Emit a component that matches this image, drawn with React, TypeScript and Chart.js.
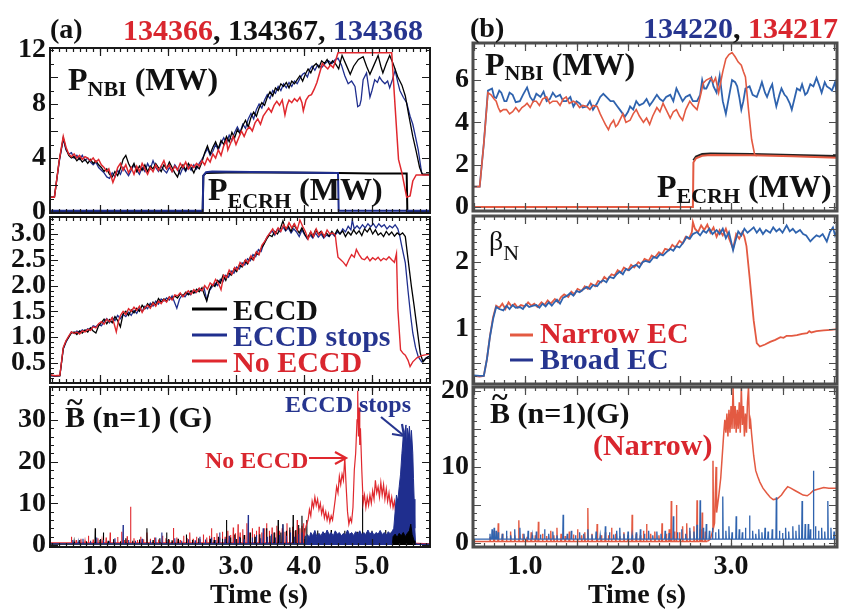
import React, { useEffect, useRef } from 'react';
import { Chart, registerables } from 'chart.js';
Chart.register(...registerables);

type P = [number, number][];

const FONT = '"Liberation Serif", "Times New Roman", Times, serif';
const RED_A = '#e0282e';
const BLUE_A = '#1f2e8e';
const BLACK = '#000000';
const RED_B = '#e35a42';
const BLUE_B = '#2f63ae';
const RED_TXT = '#d9262e';
const NAVY_TXT = '#26358f';

// ---------- Panel (a) top: P_NBI and P_ECRH (MW) ----------
const A1_RED: P = [[0.27,1.1],[0.33,1.1],[0.40,3.8],[0.46,5.6],[0.50,4.8],[0.54,4.3],[0.58,4.1],[0.62,4.3],[0.66,4.0],[0.70,4.2],[0.74,3.9],[0.78,4.1],[0.82,4.0],[0.86,3.8],[0.90,4.0],[0.94,3.7],[0.98,3.9],[1.02,3.5],[1.06,3.3],[1.10,3.0],[1.13,3.2],[1.16,2.7],[1.19,2.2],[1.22,2.6],[1.26,3.3],[1.30,3.6],[1.34,3.1],[1.38,3.5],[1.42,2.9],[1.46,3.3],[1.50,2.8],[1.54,3.4],[1.58,3.0],[1.62,3.6],[1.66,3.2],[1.70,2.8],[1.74,3.3],[1.78,3.0],[1.82,3.5],[1.86,3.1],[1.90,3.4],[1.94,3.8],[1.98,3.2],[2.02,3.5],[2.06,3.0],[2.10,3.4],[2.14,3.1],[2.18,3.6],[2.22,3.3],[2.26,3.7],[2.30,3.2],[2.34,3.5],[2.38,3.3],[2.42,3.6],[2.46,3.4],[2.50,3.8],[2.54,3.5],[2.58,4.0],[2.62,3.7],[2.66,4.3],[2.70,4.0],[2.74,4.6],[2.78,4.2],[2.82,4.9],[2.86,5.3],[2.88,4.6],[2.92,5.1],[2.96,5.6],[3.00,5.0],[3.04,5.5],[3.08,6.0],[3.12,5.6],[3.16,6.1],[3.20,6.3],[3.24,6.0],[3.28,6.6],[3.32,6.9],[3.36,6.5],[3.40,7.1],[3.44,7.4],[3.48,7.7],[3.52,7.4],[3.56,7.9],[3.60,8.2],[3.64,7.9],[3.68,8.3],[3.72,7.2],[3.75,7.9],[3.78,8.3],[3.82,8.1],[3.86,8.4],[3.90,8.2],[3.94,8.5],[3.97,8.1],[3.99,7.5],[4.03,8.3],[4.07,8.6],[4.11,8.7],[4.15,9.1],[4.19,9.6],[4.23,10.3],[4.27,11.0],[4.31,10.8],[4.35,10.6],[4.39,10.9],[4.43,10.7],[4.47,11.3],[4.50,11.8],[5.29,11.8],[5.34,7.8],[5.39,3.9],[5.44,2.9],[5.51,1.1],[5.56,1.2],[5.60,2.3],[5.65,2.75],[5.85,2.75]];
const A1_BLACK: P = [[0.27,1.1],[0.33,1.1],[0.40,3.8],[0.46,5.5],[0.50,4.7],[0.54,4.2],[0.58,4.0],[0.62,4.1],[0.66,3.8],[0.70,4.0],[0.74,3.7],[0.78,3.9],[0.82,3.6],[0.86,3.9],[0.90,3.6],[0.94,3.8],[0.98,3.5],[1.02,3.3],[1.06,3.0],[1.10,3.2],[1.14,2.8],[1.18,2.6],[1.22,3.0],[1.26,2.7],[1.30,3.2],[1.34,3.9],[1.38,4.2],[1.42,3.6],[1.46,3.2],[1.50,3.6],[1.54,3.0],[1.58,3.4],[1.62,3.1],[1.66,3.5],[1.70,3.0],[1.74,3.4],[1.78,3.2],[1.82,3.6],[1.86,3.3],[1.90,3.0],[1.94,3.5],[1.98,3.2],[2.02,3.7],[2.06,3.3],[2.10,2.9],[2.14,2.6],[2.18,3.2],[2.22,3.5],[2.26,3.1],[2.30,3.6],[2.34,3.3],[2.38,2.9],[2.42,3.4],[2.46,3.2],[2.50,3.7],[2.54,4.4],[2.58,4.9],[2.62,4.3],[2.66,4.8],[2.70,5.2],[2.74,4.7],[2.78,5.3],[2.82,5.0],[2.86,5.6],[2.90,5.2],[2.94,5.9],[2.98,5.5],[3.02,6.1],[3.06,5.8],[3.10,6.4],[3.14,6.8],[3.18,6.3],[3.22,7.0],[3.26,7.4],[3.30,7.1],[3.34,7.7],[3.38,8.1],[3.42,7.9],[3.46,8.5],[3.50,8.9],[3.54,8.6],[3.58,9.2],[3.62,9.0],[3.66,9.5],[3.70,9.3],[3.74,9.6],[3.78,9.2],[3.82,9.7],[3.86,9.5],[3.90,9.8],[3.94,10.1],[3.98,9.7],[4.02,10.2],[4.06,10.6],[4.10,10.3],[4.14,10.8],[4.18,11.0],[4.22,10.7],[4.26,11.2],[4.30,11.0],[4.34,11.3],[4.38,10.9],[4.42,11.2],[4.46,11.0],[4.51,10.6],[4.56,11.6],[4.62,10.9],[4.68,10.2],[4.73,10.8],[4.80,11.3],[4.87,11.5],[4.92,10.8],[4.97,10.2],[5.03,10.9],[5.09,11.6],[5.13,10.8],[5.16,10.3],[5.21,11.0],[5.26,11.6],[5.31,11.0],[5.38,10.0],[5.44,9.4],[5.49,8.6],[5.54,7.2],[5.60,5.6],[5.65,4.5],[5.70,3.3],[5.74,2.8],[5.85,2.8]];
const A1_BLUE: P = [[0.27,1.1],[0.33,1.1],[0.40,3.7],[0.46,5.4],[0.50,4.6],[0.54,4.3],[0.58,4.4],[0.62,4.0],[0.66,4.2],[0.70,3.9],[0.74,4.2],[0.78,3.8],[0.82,4.0],[0.86,3.7],[0.90,3.5],[0.94,3.7],[0.98,3.3],[1.02,3.1],[1.06,2.9],[1.10,2.6],[1.14,2.5],[1.18,2.9],[1.22,2.6],[1.26,3.1],[1.30,2.8],[1.34,3.3],[1.38,3.0],[1.42,2.7],[1.46,3.1],[1.50,3.5],[1.54,3.1],[1.58,2.8],[1.62,3.3],[1.66,3.0],[1.70,3.6],[1.74,3.2],[1.78,3.8],[1.82,3.3],[1.86,3.0],[1.90,3.4],[1.94,3.1],[1.98,2.9],[2.02,3.3],[2.06,3.0],[2.10,3.5],[2.14,3.2],[2.18,2.8],[2.22,3.3],[2.26,3.0],[2.30,3.4],[2.34,3.1],[2.38,3.5],[2.42,3.2],[2.46,3.6],[2.50,3.9],[2.54,4.3],[2.58,4.7],[2.62,4.2],[2.66,4.5],[2.70,5.0],[2.74,4.6],[2.78,5.1],[2.82,5.5],[2.86,5.1],[2.90,5.7],[2.94,5.3],[2.98,5.9],[3.02,6.3],[3.06,5.9],[3.10,6.5],[3.14,6.2],[3.18,6.9],[3.22,7.3],[3.26,6.9],[3.30,7.6],[3.34,8.0],[3.38,7.7],[3.42,8.3],[3.46,8.7],[3.50,8.4],[3.54,9.0],[3.58,8.8],[3.62,9.3],[3.66,9.0],[3.70,9.5],[3.74,9.2],[3.78,9.6],[3.82,9.3],[3.86,9.7],[3.90,9.5],[3.94,9.9],[3.98,10.2],[4.01,10.3],[4.05,10.0],[4.09,10.6],[4.12,10.8],[4.16,10.5],[4.20,10.9],[4.26,10.7],[4.31,11.0],[4.36,11.2],[4.41,11.0],[4.46,11.3],[4.50,11.4],[4.55,10.9],[4.60,10.1],[4.65,9.5],[4.70,9.7],[4.75,9.3],[4.79,7.8],[4.82,7.9],[4.84,8.3],[4.87,9.8],[4.92,10.3],[4.97,8.5],[5.00,9.0],[5.04,9.8],[5.08,9.6],[5.11,10.0],[5.15,9.7],[5.19,9.5],[5.23,9.7],[5.26,9.2],[5.30,9.8],[5.34,10.5],[5.38,9.6],[5.41,9.0],[5.46,8.5],[5.51,8.1],[5.56,7.1],[5.60,6.5],[5.63,5.8],[5.68,4.6],[5.73,2.9],[5.75,2.75],[5.85,2.75]];
const A1_ECRH_BLUE: P = [[0.26,0.1],[2.51,0.1],[2.52,2.7],[2.56,2.95],[2.65,3.0],[3.5,2.95],[4.50,2.9],[4.51,0.1],[5.86,0.1]];
const A1_ECRH_BLACK: P = [[0.26,0.05],[2.51,0.05],[2.52,2.7],[2.56,2.9],[3.0,2.95],[4.5,2.9],[5.0,2.85],[5.51,2.85],[5.52,0.05],[5.86,0.05]];

// ---------- Panel (a) middle: beta_N ----------
const A2_RED: P = [[0.27,0.27],[0.34,0.25],[0.41,0.26],[0.46,0.8],[0.50,0.93],[0.54,1.02],[0.58,1.1],[0.62,1.07],[0.66,1.1],[0.70,1.06],[0.74,1.12],[0.78,1.1],[0.82,1.15],[0.86,1.13],[0.90,1.2],[0.94,1.18],[0.98,1.26],[1.02,1.3],[1.06,1.25],[1.10,1.35],[1.14,1.3],[1.18,1.38],[1.21,1.25],[1.24,1.1],[1.27,1.3],[1.30,1.42],[1.34,1.5],[1.38,1.44],[1.42,1.55],[1.46,1.5],[1.50,1.58],[1.54,1.52],[1.58,1.6],[1.62,1.48],[1.66,1.57],[1.70,1.62],[1.74,1.56],[1.78,1.66],[1.82,1.6],[1.86,1.7],[1.90,1.65],[1.94,1.73],[1.98,1.68],[2.02,1.78],[2.06,1.72],[2.10,1.82],[2.14,1.8],[2.18,1.86],[2.22,1.78],[2.26,1.85],[2.30,1.9],[2.34,1.83],[2.38,1.92],[2.42,1.87],[2.46,1.95],[2.50,1.9],[2.54,2.0],[2.58,1.93],[2.62,2.05],[2.66,2.0],[2.70,2.12],[2.74,2.05],[2.78,1.92],[2.82,2.2],[2.86,2.15],[2.90,2.3],[2.94,2.22],[2.98,2.35],[3.02,2.3],[3.06,2.45],[3.10,2.38],[3.14,2.5],[3.18,2.44],[3.22,2.58],[3.26,2.5],[3.30,2.66],[3.34,2.6],[3.38,2.78],[3.42,2.85],[3.46,2.95],[3.50,3.02],[3.54,3.1],[3.58,3.0],[3.62,3.12],[3.66,3.05],[3.70,3.18],[3.74,3.1],[3.78,3.22],[3.82,3.12],[3.86,3.2],[3.90,3.08],[3.94,3.27],[3.98,3.15],[4.02,3.05],[4.06,2.9],[4.10,3.05],[4.14,2.95],[4.18,3.1],[4.22,2.98],[4.26,3.05],[4.30,2.95],[4.34,3.08],[4.38,3.0],[4.42,3.02],[4.46,2.98],[4.48,2.75],[4.50,2.55],[4.54,2.5],[4.58,2.45],[4.62,2.38],[4.66,2.5],[4.70,2.6],[4.74,2.55],[4.77,2.7],[4.81,2.6],[4.85,2.52],[4.89,2.5],[4.93,2.56],[4.97,2.48],[5.01,2.54],[5.05,2.5],[5.09,2.55],[5.13,2.48],[5.17,2.53],[5.21,2.5],[5.25,2.56],[5.29,2.5],[5.33,2.45],[5.36,2.62],[5.38,1.55],[5.42,0.75],[5.46,0.68],[5.49,0.65],[5.53,0.55],[5.56,0.43],[5.60,0.52],[5.66,0.6],[5.73,0.64],[5.80,0.66],[5.86,0.68]];
const A2_BLACK: P = [[0.27,0.26],[0.34,0.25],[0.41,0.25],[0.46,0.78],[0.50,0.92],[0.54,1.0],[0.58,1.08],[0.62,1.1],[0.66,1.05],[0.70,1.12],[0.74,1.08],[0.78,1.14],[0.82,1.1],[0.86,1.18],[0.90,1.12],[0.94,1.08],[0.98,1.22],[1.02,1.28],[1.06,1.35],[1.10,1.26],[1.14,1.34],[1.18,1.28],[1.22,1.4],[1.26,1.32],[1.30,1.2],[1.34,1.45],[1.38,1.5],[1.42,1.42],[1.46,1.53],[1.50,1.47],[1.54,1.56],[1.58,1.5],[1.62,1.62],[1.66,1.55],[1.70,1.65],[1.74,1.58],[1.78,1.68],[1.82,1.62],[1.86,1.75],[1.90,1.68],[1.94,1.74],[1.98,1.7],[2.02,1.78],[2.06,1.74],[2.10,1.8],[2.14,1.76],[2.18,1.84],[2.22,1.8],[2.26,1.87],[2.30,1.82],[2.34,1.9],[2.38,1.85],[2.42,1.93],[2.46,1.88],[2.50,1.96],[2.54,1.8],[2.57,1.7],[2.61,1.92],[2.65,2.02],[2.69,1.98],[2.73,2.1],[2.77,2.05],[2.81,2.2],[2.85,2.1],[2.89,2.25],[2.93,2.2],[2.97,2.32],[3.01,2.27],[3.05,2.4],[3.09,2.36],[3.13,2.48],[3.17,2.42],[3.21,2.55],[3.25,2.5],[3.29,2.63],[3.33,2.6],[3.37,2.72],[3.41,2.8],[3.45,2.9],[3.49,2.98],[3.53,2.95],[3.57,3.05],[3.61,3.0],[3.65,3.1],[3.69,3.25],[3.73,3.08],[3.77,3.15],[3.81,3.05],[3.85,3.18],[3.89,3.1],[3.93,3.02],[3.97,3.12],[4.01,3.0],[4.05,2.92],[4.09,3.02],[4.13,2.95],[4.17,3.08],[4.21,3.0],[4.25,3.05],[4.29,2.95],[4.33,3.02],[4.37,2.96],[4.41,3.05],[4.45,2.98],[4.49,3.08],[4.53,3.0],[4.57,3.06],[4.61,2.95],[4.65,3.04],[4.69,2.98],[4.73,3.08],[4.77,3.0],[4.81,3.06],[4.85,2.97],[4.89,3.1],[4.93,3.04],[4.97,3.12],[5.01,3.0],[5.05,3.08],[5.09,2.98],[5.13,3.02],[5.17,2.95],[5.21,3.05],[5.25,2.98],[5.29,3.04],[5.33,2.96],[5.37,3.02],[5.41,2.98],[5.45,3.02],[5.49,2.95],[5.52,2.62],[5.55,2.3],[5.58,1.98],[5.62,1.6],[5.66,1.2],[5.71,0.69],[5.75,0.52],[5.80,0.6],[5.86,0.64]];
const A2_BLUE: P = [[0.27,0.25],[0.34,0.24],[0.41,0.25],[0.46,0.77],[0.50,0.9],[0.54,1.0],[0.58,1.1],[0.62,1.07],[0.66,1.12],[0.70,1.09],[0.74,1.14],[0.78,1.11],[0.82,1.16],[0.86,1.14],[0.90,1.22],[0.94,1.2],[0.98,1.25],[1.02,1.22],[1.06,1.3],[1.10,1.36],[1.14,1.28],[1.18,1.38],[1.22,1.32],[1.26,1.42],[1.30,1.36],[1.34,1.44],[1.38,1.4],[1.42,1.48],[1.46,1.42],[1.50,1.52],[1.54,1.46],[1.58,1.56],[1.62,1.5],[1.66,1.6],[1.70,1.55],[1.74,1.66],[1.78,1.6],[1.82,1.7],[1.86,1.64],[1.90,1.74],[1.94,1.7],[1.98,1.76],[2.02,1.72],[2.06,1.8],[2.10,1.66],[2.13,1.56],[2.17,1.74],[2.21,1.82],[2.25,1.78],[2.29,1.86],[2.33,1.82],[2.37,1.9],[2.41,1.86],[2.45,1.94],[2.49,1.9],[2.53,1.96],[2.57,1.72],[2.61,1.9],[2.65,1.98],[2.69,2.05],[2.73,2.0],[2.77,2.12],[2.81,2.08],[2.85,2.2],[2.89,2.16],[2.93,2.28],[2.97,2.24],[3.01,2.36],[3.05,2.32],[3.09,2.44],[3.13,2.4],[3.17,2.52],[3.21,2.48],[3.25,2.6],[3.29,2.56],[3.33,2.7],[3.37,2.66],[3.41,2.82],[3.45,2.92],[3.49,3.0],[3.53,3.06],[3.57,2.98],[3.61,3.1],[3.65,3.04],[3.69,3.14],[3.73,3.06],[3.77,3.12],[3.81,3.02],[3.85,3.1],[3.89,3.04],[3.93,2.95],[3.97,3.08],[4.01,2.98],[4.05,2.9],[4.09,2.98],[4.13,2.92],[4.17,3.02],[4.21,2.94],[4.25,3.0],[4.29,2.92],[4.33,2.98],[4.37,2.95],[4.41,3.02],[4.45,2.96],[4.49,3.04],[4.53,3.0],[4.57,3.1],[4.61,3.04],[4.65,3.15],[4.69,3.08],[4.71,3.27],[4.74,3.1],[4.78,3.16],[4.82,3.1],[4.86,3.18],[4.90,3.12],[4.94,3.2],[4.98,3.14],[5.02,3.2],[5.06,3.12],[5.10,3.2],[5.14,3.14],[5.18,3.18],[5.22,3.1],[5.26,3.16],[5.30,3.12],[5.34,3.18],[5.38,3.1],[5.41,2.95],[5.44,2.75],[5.49,2.44],[5.53,1.9],[5.57,1.4],[5.60,1.08],[5.64,0.8],[5.68,0.62],[5.73,0.52],[5.80,0.6],[5.86,0.64]];

// ---------- Panel (a) bottom: B~ (n=1) (G) ----------
const A3_RED_BASE = 0.5;
const A3_RED_SPIKES: P = [[0.58,2.0],[0.65,1.2],[0.72,1.5],[0.78,1.0],[0.83,2.2],[0.9,1.3],[0.97,1.6],[1.03,1.1],[1.09,1.8],[1.15,3.0],[1.2,1.4],[1.26,1.9],[1.32,3.2],[1.36,1.2],[1.4,2.1],[1.45,9.2],[1.5,1.6],[1.55,1.2],[1.6,2.0],[1.64,1.4],[1.69,3.0],[1.74,1.5],[1.8,1.8],[1.86,1.3],[1.92,2.2],[1.97,1.6],[2.02,1.3],[2.08,4.1],[2.13,1.8],[2.18,1.2],[2.23,2.2],[2.28,1.6],[2.32,3.0],[2.37,1.5],[2.42,2.0],[2.47,1.4],[2.52,2.5],[2.57,1.8],[2.61,2.2],[2.64,4.0],[2.68,1.9],[2.72,2.8],[2.76,1.8],[2.8,3.2],[2.84,2.0],[2.88,3.4],[2.92,2.4],[2.96,4.2],[2.99,2.8],[3.03,5.0],[3.06,3.0],[3.1,3.8],[3.13,2.4],[3.16,5.2],[3.2,3.0],[3.24,4.0],[3.27,2.6],[3.3,3.4],[3.34,4.4],[3.38,3.0],[3.42,4.0],[3.45,5.2],[3.49,3.4],[3.53,4.2],[3.57,3.0],[3.6,4.6],[3.64,3.4],[3.68,4.0],[3.72,3.2],[3.75,5.2],[3.79,3.6],[3.83,4.4],[3.87,3.4],[3.9,6.0],[3.94,4.0],[3.97,4.6],[3.99,5.2]];
const A3_RED_BODY: P = [[4.00,2.0],[4.03,4.5],[4.06,6.0],[4.08,8.5],[4.10,7.0],[4.12,10.5],[4.14,9.0],[4.16,11.5],[4.18,9.5],[4.20,11.0],[4.22,8.5],[4.24,10.0],[4.26,7.5],[4.28,9.0],[4.30,6.5],[4.32,8.0],[4.34,6.0],[4.36,7.5],[4.38,5.5],[4.40,7.0],[4.42,6.0],[4.44,8.5],[4.46,11.0],[4.48,14.0],[4.50,12.5],[4.52,16.5],[4.54,14.5],[4.56,17.0],[4.58,15.5],[4.60,21.0],[4.62,14.0],[4.64,8.0],[4.66,5.0],[4.68,6.5],[4.70,5.5],[4.72,9.0],[4.74,18.0],[4.76,22.0],[4.78,30.0],[4.79,37.0],[4.80,26.0],[4.81,33.0],[4.82,24.0],[4.83,28.0],[4.85,18.0],[4.87,10.0],[4.89,12.0],[4.91,9.0],[4.93,11.5],[4.95,9.5],[4.97,12.0],[4.99,10.0],[5.01,13.0],[5.03,11.0],[5.05,15.5],[5.07,12.5],[5.09,14.0],[5.11,11.5],[5.13,15.0],[5.15,12.0],[5.17,14.5],[5.19,11.0],[5.21,13.5],[5.23,10.5],[5.25,12.5],[5.27,9.5],[5.29,11.5],[5.31,9.0],[5.33,10.5],[5.35,7.5],[5.37,8.0],[5.39,5.0],[5.41,3.0],[5.43,2.0],[5.46,1.0],[5.49,0.5],[5.86,0.3]];
const A3_BLUE_BASE = 0.3;
const A3_BLUE_SPIKES: P = [[0.6,1.2],[0.68,0.8],[0.75,1.5],[0.86,1.0],[0.95,1.8],[1.05,1.2],[1.14,0.9],[1.22,1.6],[1.34,4.8],[1.42,1.2],[1.52,1.0],[1.62,1.5],[1.74,1.1],[1.82,1.8],[1.91,3.0],[2.0,1.2],[2.1,1.6],[2.2,1.0],[2.3,1.4],[2.4,1.1],[2.47,2.0],[2.55,1.3],[2.64,1.8],[2.7,1.2],[2.76,3.0],[2.84,1.5],[2.9,2.2],[2.98,1.6],[3.05,2.0],[3.12,1.4],[3.18,7.2],[3.24,1.8],[3.3,2.4],[3.36,1.6],[3.4,4.0],[3.46,2.0],[3.52,2.6],[3.58,1.8],[3.64,2.4],[3.69,5.0],[3.74,2.2],[3.8,3.0],[3.86,2.0],[3.92,2.6],[3.97,3.0],[4.02,2.2]];
const A3_BLUE_ENV: P = [[4.04,0],[4.05,2.5],[4.08,1.8],[4.10,3.0],[4.13,2.2],[4.16,3.5],[4.19,2.0],[4.22,2.8],[4.25,2.2],[4.28,3.2],[4.31,2.4],[4.34,3.6],[4.37,2.5],[4.40,3.0],[4.43,2.2],[4.46,3.4],[4.49,2.6],[4.52,3.0],[4.55,2.2],[4.58,2.8],[4.61,2.4],[4.64,3.6],[4.67,2.5],[4.70,3.0],[4.73,2.3],[4.76,3.2],[4.79,2.6],[4.82,3.4],[4.85,2.4],[4.88,3.0],[4.91,2.5],[4.94,3.6],[4.97,2.6],[5.00,3.2],[5.03,2.4],[5.06,3.0],[5.09,2.6],[5.12,3.5],[5.15,2.5],[5.18,3.0],[5.21,2.4],[5.24,3.2],[5.27,2.6],[5.30,3.4],[5.32,4.0],[5.34,8.0],[5.36,12.0],[5.38,10.5],[5.40,14.0],[5.42,17.0],[5.44,22.0],[5.46,26.0],[5.47,20.0],[5.48,27.0],[5.50,28.8],[5.51,23.0],[5.52,28.0],[5.54,26.0],[5.55,28.5],[5.57,24.0],[5.58,27.5],[5.60,22.0],[5.61,16.0],[5.62,11.0],[5.63,4.0],[5.64,0.5],[5.66,0.2],[5.86,0.2]];
const A3_BLACK_BASE = 0.2;
const A3_BLACK_SPIKES: P = [[0.62,0.8],[0.7,1.2],[0.8,0.9],[0.93,4.0],[1.0,1.2],[1.05,3.0],[1.12,1.0],[1.2,1.4],[1.3,0.9],[1.38,1.6],[1.48,1.0],[1.58,1.3],[1.69,4.0],[1.78,1.2],[1.88,1.6],[1.98,3.0],[2.06,1.1],[2.15,1.5],[2.27,2.5],[2.36,1.2],[2.45,1.6],[2.55,1.0],[2.62,1.5],[2.68,1.2],[2.74,2.0],[2.8,1.5],[2.86,6.0],[2.92,1.8],[2.98,2.5],[3.06,1.8],[3.12,2.4],[3.21,3.0],[3.28,2.0],[3.35,2.6],[3.45,4.0],[3.5,2.2],[3.56,3.0],[3.62,6.0],[3.66,3.0],[3.69,5.0],[3.74,3.4],[3.79,4.2],[3.84,7.2],[3.88,3.6],[3.92,4.8],[3.97,7.0],[4.01,4.0],[4.04,6.0],[4.1,2.5],[4.2,3.5],[4.3,2.8],[4.4,3.6],[4.5,2.6],[4.6,3.4],[4.7,2.8],[4.78,3.2],[4.86,12.0],[4.92,3.0],[5.0,3.4],[5.1,2.8],[5.2,3.6],[5.28,3.0]];
const A3_BLACK_BAND: P = [[5.30,0],[5.31,2.0],[5.34,2.6],[5.37,1.8],[5.40,2.8],[5.43,2.2],[5.46,3.0],[5.49,2.0],[5.52,2.8],[5.55,3.4],[5.57,5.0],[5.59,2.5],[5.62,1.0],[5.63,0]];

// ---------- Panel (b) top: P_NBI, P_ECRH (MW) ----------
const B1_BLUE: P = [[0.50,0.96],[0.56,0.96],[0.60,3.0],[0.64,5.5],[0.68,5.6],[0.70,5.2],[0.72,5.15],[0.75,5.5],[0.77,5.4],[0.80,5.0],[0.82,5.0],[0.85,5.4],[0.88,5.3],[0.91,4.95],[0.95,5.0],[0.98,5.3],[1.02,5.65],[1.05,5.2],[1.08,5.0],[1.11,5.35],[1.15,5.2],[1.18,5.45],[1.21,5.0],[1.24,5.1],[1.27,5.4],[1.30,5.2],[1.34,5.3],[1.37,5.0],[1.40,5.0],[1.44,5.2],[1.47,4.75],[1.50,5.0],[1.53,4.9],[1.56,4.7],[1.60,4.75],[1.63,5.0],[1.66,4.6],[1.70,4.9],[1.73,5.2],[1.76,5.35],[1.79,5.2],[1.83,5.0],[1.86,5.0],[1.89,4.8],[1.92,4.6],[1.95,4.4],[1.97,4.27],[2.00,4.5],[2.02,4.75],[2.05,4.6],[2.08,5.0],[2.11,4.8],[2.15,4.9],[2.18,5.1],[2.21,4.8],[2.24,5.0],[2.28,5.3],[2.31,5.1],[2.34,5.0],[2.37,5.2],[2.41,5.3],[2.44,5.0],[2.47,5.6],[2.50,5.3],[2.53,5.0],[2.56,5.2],[2.60,5.3],[2.63,5.0],[2.67,5.0],[2.70,5.3],[2.72,6.0],[2.74,5.6],[2.76,5.6],[2.78,5.8],[2.81,6.1],[2.83,5.7],[2.86,5.4],[2.89,6.2],[2.92,5.0],[2.95,4.4],[2.98,5.2],[3.01,6.0],[3.04,5.9],[3.06,5.7],[3.08,5.2],[3.10,4.6],[3.12,5.0],[3.14,5.6],[3.18,5.7],[3.21,5.3],[3.25,5.2],[3.28,5.6],[3.30,5.9],[3.33,5.4],[3.35,5.2],[3.38,5.6],[3.40,5.8],[3.42,5.2],[3.44,4.75],[3.47,5.3],[3.49,5.6],[3.52,5.3],[3.54,5.2],[3.57,4.9],[3.59,4.6],[3.62,5.2],[3.64,5.6],[3.67,5.5],[3.69,5.8],[3.72,5.3],[3.74,5.4],[3.77,5.8],[3.80,5.7],[3.83,6.1],[3.86,5.7],[3.88,5.4],[3.91,5.9],[3.93,5.7],[3.96,5.6],[3.98,5.5],[4.01,5.9],[4.03,5.2]];
const B1_RED: P = [[0.50,0.96],[0.56,0.96],[0.60,3.0],[0.64,5.4],[0.67,5.3],[0.70,5.1],[0.72,5.0],[0.74,4.7],[0.76,4.5],[0.79,4.6],[0.82,4.6],[0.85,4.4],[0.88,4.5],[0.91,4.7],[0.94,4.5],[0.97,4.7],[1.00,4.8],[1.02,4.9],[1.05,4.7],[1.08,5.0],[1.11,5.0],[1.14,4.8],[1.17,5.1],[1.21,5.2],[1.24,4.9],[1.27,5.0],[1.31,5.0],[1.34,4.8],[1.37,5.1],[1.40,5.2],[1.43,4.9],[1.47,5.0],[1.50,4.9],[1.53,4.7],[1.56,4.8],[1.60,4.75],[1.63,4.6],[1.66,4.8],[1.70,4.75],[1.73,4.4],[1.76,4.1],[1.78,3.9],[1.81,3.65],[1.83,3.9],[1.86,4.1],[1.88,3.8],[1.90,3.9],[1.93,4.2],[1.95,4.4],[1.98,4.0],[2.02,4.1],[2.05,4.4],[2.08,4.6],[2.11,4.3],[2.15,4.0],[2.18,4.2],[2.21,3.9],[2.24,4.3],[2.28,4.7],[2.31,4.5],[2.34,4.9],[2.37,4.6],[2.41,4.2],[2.44,4.5],[2.47,4.6],[2.50,4.3],[2.53,4.1],[2.56,4.6],[2.60,5.0],[2.63,4.8],[2.67,4.6],[2.70,5.2],[2.73,5.85],[2.76,6.0],[2.80,6.1],[2.83,5.9],[2.85,6.1],[2.88,5.4],[2.90,5.9],[2.92,6.4],[2.95,7.0],[2.98,7.2],[3.01,7.3],[3.04,7.1],[3.07,6.85],[3.10,6.7],[3.12,6.4],[3.14,6.15],[3.17,4.6],[3.20,3.2],[3.23,2.46],[3.25,2.42]];
const B1_ECRH_RED: P = [[0.49,0.0],[2.63,0.0],[2.635,2.1],[2.66,2.3],[2.72,2.42],[2.8,2.46],[3.2,2.45],[3.6,2.4],[4.04,2.33]];
const B1_ECRH_BLACK: P = [[2.635,2.2],[2.66,2.38],[2.72,2.5],[2.8,2.52],[3.2,2.5],[3.6,2.45],[4.04,2.4]];

// ---------- Panel (b) middle: beta_N ----------
const B2_BLUE: P = [[0.50,0.31],[0.56,0.3],[0.60,0.3],[0.63,0.55],[0.66,0.89],[0.69,1.15],[0.72,1.33],[0.75,1.3],[0.79,1.28],[0.82,1.35],[0.85,1.3],[0.88,1.36],[0.91,1.32],[0.95,1.33],[0.98,1.3],[1.01,1.37],[1.04,1.33],[1.08,1.35],[1.11,1.36],[1.14,1.32],[1.17,1.38],[1.20,1.34],[1.23,1.4],[1.26,1.35],[1.28,1.39],[1.31,1.44],[1.34,1.38],[1.37,1.47],[1.41,1.5],[1.44,1.54],[1.47,1.5],[1.50,1.57],[1.53,1.55],[1.57,1.6],[1.60,1.63],[1.63,1.6],[1.66,1.66],[1.70,1.64],[1.73,1.7],[1.76,1.73],[1.79,1.7],[1.82,1.78],[1.86,1.76],[1.89,1.82],[1.92,1.86],[1.95,1.82],[1.98,1.9],[2.01,1.88],[2.05,1.94],[2.08,1.96],[2.11,1.92],[2.14,2.0],[2.17,2.02],[2.21,2.0],[2.25,2.08],[2.28,2.06],[2.31,2.12],[2.34,2.1],[2.38,2.16],[2.41,2.2],[2.44,2.17],[2.47,2.24],[2.50,2.22],[2.54,2.3],[2.57,2.38],[2.60,2.35],[2.63,2.42],[2.67,2.45],[2.70,2.4],[2.73,2.47],[2.76,2.44],[2.79,2.5],[2.82,2.42],[2.86,2.48],[2.89,2.42],[2.92,2.5],[2.95,2.36],[2.98,2.45],[3.02,2.18],[3.04,2.3],[3.07,2.46],[3.10,2.4],[3.13,2.5],[3.16,2.44],[3.19,2.48],[3.22,2.52],[3.25,2.44],[3.28,2.5],[3.31,2.42],[3.34,2.48],[3.38,2.44],[3.41,2.52],[3.44,2.46],[3.47,2.5],[3.50,2.44],[3.54,2.55],[3.57,2.46],[3.60,2.5],[3.63,2.44],[3.67,2.48],[3.70,2.42],[3.73,2.4],[3.77,2.31],[3.80,2.36],[3.83,2.4],[3.86,2.38],[3.89,2.42],[3.93,2.31],[3.96,2.45],[3.99,2.52],[4.01,2.4],[4.04,2.5]];
const B2_RED: P = [[0.50,0.3],[0.56,0.29],[0.60,0.3],[0.63,0.55],[0.66,0.9],[0.69,1.18],[0.72,1.35],[0.75,1.32],[0.78,1.38],[0.81,1.3],[0.84,1.4],[0.87,1.34],[0.90,1.38],[0.93,1.32],[0.96,1.36],[1.00,1.34],[1.03,1.4],[1.06,1.35],[1.09,1.38],[1.12,1.33],[1.16,1.4],[1.19,1.36],[1.22,1.43],[1.25,1.38],[1.29,1.45],[1.32,1.4],[1.35,1.48],[1.38,1.52],[1.42,1.48],[1.45,1.56],[1.48,1.52],[1.51,1.6],[1.55,1.57],[1.58,1.64],[1.61,1.6],[1.64,1.68],[1.68,1.64],[1.71,1.72],[1.74,1.7],[1.77,1.78],[1.80,1.74],[1.84,1.82],[1.87,1.8],[1.90,1.88],[1.93,1.84],[1.96,1.92],[2.00,1.88],[2.03,1.96],[2.06,1.92],[2.10,2.0],[2.13,1.97],[2.16,2.05],[2.20,2.02],[2.23,2.1],[2.26,2.07],[2.30,2.15],[2.33,2.12],[2.36,2.2],[2.40,2.18],[2.43,2.26],[2.46,2.22],[2.50,2.32],[2.53,2.28],[2.56,2.38],[2.59,2.35],[2.62,2.45],[2.63,2.6],[2.65,2.5],[2.68,2.45],[2.71,2.55],[2.74,2.48],[2.77,2.56],[2.80,2.44],[2.83,2.52],[2.86,2.38],[2.89,2.48],[2.92,2.4],[2.95,2.5],[2.98,2.36],[3.02,2.2],[3.05,2.42],[3.08,2.35],[3.11,2.45],[3.13,2.38],[3.15,2.24],[3.18,1.78],[3.22,1.13],[3.25,0.79],[3.28,0.74],[3.33,0.77],[3.38,0.81],[3.43,0.84],[3.48,0.88],[3.51,0.87],[3.54,0.9],[3.59,0.9],[3.64,0.91],[3.69,0.93],[3.74,0.94],[3.76,0.97],[3.78,0.95],[3.83,0.97],[3.90,0.98],[3.97,0.99],[4.04,1.0]];

// ---------- Panel (b) bottom: B~ (n=1)(G) ----------
const B3_RED_BASE = 0.2;
const B3_RED_SPIKES: P = [[0.66,0.8],[0.70,1.6],[0.74,2.6],[0.78,1.2],[0.82,0.9],[0.86,1.5],[0.90,1.0],[0.94,3.0],[0.98,1.2],[1.02,0.8],[1.06,1.4],[1.10,1.0],[1.13,2.8],[1.17,1.2],[1.21,0.9],[1.25,1.6],[1.28,1.0],[1.31,2.0],[1.35,1.2],[1.39,0.9],[1.43,1.5],[1.47,1.1],[1.51,1.8],[1.55,1.0],[1.58,1.4],[1.61,4.6],[1.65,1.2],[1.70,2.5],[1.74,1.0],[1.78,1.4],[1.81,1.0],[1.84,2.0],[1.88,1.2],[1.92,0.9],[1.96,1.4],[2.00,1.0],[2.04,3.7],[2.08,1.2],[2.12,1.0],[2.15,1.6],[2.18,2.5],[2.22,1.2],[2.26,1.5],[2.30,1.0],[2.33,2.6],[2.37,1.2],[2.40,1.8],[2.42,5.5],[2.45,1.5],[2.47,5.0],[2.50,1.4],[2.53,2.2],[2.57,2.6],[2.60,1.6],[2.64,2.2],[2.67,5.6],[2.70,1.8],[2.72,4.0],[2.75,1.5]];
const B3_RED_BODY: P = [[2.77,0.2],[2.80,0.5],[2.82,1.5],[2.825,10.8],[2.83,2.0],[2.84,2.6],[2.855,10.0],[2.86,4.0],[2.88,6.1],[2.90,8.5],[2.91,10.5],[2.92,12.5],[2.93,14.5],[2.94,16.2],[2.95,14.5],[2.96,17.0],[2.97,14.0],[2.98,17.5],[2.99,14.5],[3.00,18.0],[3.01,15.0],[3.02,20.5],[3.03,15.0],[3.04,18.0],[3.05,14.5],[3.06,17.5],[3.07,15.0],[3.08,18.5],[3.09,14.5],[3.10,20.5],[3.11,15.5],[3.12,18.0],[3.13,14.0],[3.14,17.0],[3.15,14.5],[3.16,18.5],[3.17,20.5],[3.18,15.0],[3.19,16.0],[3.20,14.3],[3.22,11.5],[3.24,9.5],[3.26,8.7],[3.28,8.0],[3.31,7.2],[3.35,6.5],[3.38,6.0],[3.41,5.7],[3.45,5.8],[3.49,6.3],[3.52,6.9],[3.55,7.4],[3.58,7.2],[3.62,6.9],[3.66,6.6],[3.70,6.3],[3.74,6.2],[3.77,6.5],[3.80,6.9],[3.85,7.1],[3.90,7.3],[3.95,7.2],[4.04,7.2]];
const B3_BLUE_BASE = 0.5;
const B3_BLUE_SPIKES: P = [[0.66,1.2],[0.68,1.8],[0.70,2.0],[0.72,1.6],[0.74,1.4],[0.78,1.2],[0.82,1.6],[0.86,1.0],[0.90,1.8],[0.95,2.0],[0.99,1.2],[1.03,1.6],[1.07,1.0],[1.11,1.5],[1.15,1.1],[1.19,1.8],[1.23,1.2],[1.27,1.5],[1.31,1.0],[1.37,3.7],[1.41,1.2],[1.45,1.6],[1.49,1.0],[1.53,1.4],[1.57,1.2],[1.61,1.8],[1.65,1.1],[1.69,1.5],[1.73,1.0],[1.78,2.2],[1.82,1.4],[1.86,1.1],[1.89,1.6],[1.92,2.0],[1.96,1.2],[2.00,1.5],[2.04,1.0],[2.08,1.4],[2.12,1.8],[2.16,1.2],[2.20,1.6],[2.24,1.0],[2.28,1.5],[2.32,1.2],[2.36,1.6],[2.40,1.3],[2.44,3.5],[2.48,1.4],[2.52,1.8],[2.56,1.2],[2.60,2.0],[2.64,1.5],[2.67,2.4],[2.70,5.6],[2.73,2.0],[2.76,2.5],[2.79,1.6],[2.82,2.0],[2.85,1.4],[2.88,1.8],[2.92,6.1],[2.95,1.6],[2.98,2.2],[3.01,1.4],[3.05,3.5],[3.08,1.8],[3.11,1.4],[3.14,2.0],[3.18,3.6],[3.21,1.6],[3.24,1.2],[3.27,1.8],[3.30,1.4],[3.33,2.0],[3.36,1.5],[3.40,1.8],[3.44,6.0],[3.47,1.6],[3.50,1.3],[3.53,2.0],[3.56,1.5],[3.60,2.2],[3.63,1.6],[3.66,2.4],[3.69,5.5],[3.72,2.5],[3.75,2.5],[3.77,1.8],[3.80,9.5],[3.82,2.2],[3.85,1.6],[3.88,2.0],[3.91,1.5],[3.94,5.5],[3.97,2.0],[4.00,1.5]];

// ---------- axes ----------
const A_X_TICKS = [1, 2, 3, 4, 5];
const A_X_LABELS = ['1.0', '2.0', '3.0', '4.0', '5.0'];
const B_X_TICKS = [1, 2, 3];
const B_X_LABELS = ['1.0', '2.0', '3.0'];
const A1_Y_TICKS = [0, 4, 8, 12];
const A2_Y_TICKS = [0.5, 1.0, 1.5, 2.0, 2.5, 3.0];
const A2_Y_LABELS = ['0.5', '1.0', '1.5', '2.0', '2.5', '3.0'];
const A3_Y_TICKS = [0, 10, 20, 30];
const B1_Y_TICKS = [0, 2, 4, 6];
const B2_Y_TICKS = [1, 2];
const B3_Y_TICKS = [0, 10, 20];

function range(a: number, b: number, step: number): number[] {
  const out: number[] = [];
  const n = Math.round((b - a) / step);
  for (let i = 0; i <= n; i++) out.push(+(a + i * step).toFixed(5));
  return out;
}

function spikeTrace(spikes: P, base: number, t0: number, t1: number, w = 0.004): P {
  const out: P = [[t0, base]];
  for (const [t, h] of spikes) out.push([t - w, base], [t, h], [t + w, base]);
  out.push([t1, base]);
  return out;
}

const line = (data: P, color: string, width = 1.3, fill = false) => ({
  type: 'line', data, borderColor: color, borderWidth: width, pointRadius: 0,
  tension: 0, fill: fill ? 'origin' : false, backgroundColor: color,
});

const framePlugin = {
  id: 'frame',
  afterDatasetsDraw(chart: any, _args: any, o: any) {
    const { ctx, chartArea: a, scales } = chart;
    const xs = scales.x, ys = scales.y;
    ctx.save();
    ctx.strokeStyle = o.color;
    ctx.lineWidth = 1.2;
    const drawX = (vals: number[], len: number) => {
      for (const v of vals) {
        if (v <= xs.min || v >= xs.max) continue;
        const px = Math.round(xs.getPixelForValue(v)) + 0.5;
        ctx.beginPath();
        ctx.moveTo(px, a.bottom); ctx.lineTo(px, a.bottom - len);
        ctx.moveTo(px, a.top); ctx.lineTo(px, a.top + len);
        ctx.stroke();
      }
    };
    const drawY = (vals: number[], len: number) => {
      for (const v of vals) {
        if (v <= ys.min || v >= ys.max) continue;
        const py = Math.round(ys.getPixelForValue(v)) + 0.5;
        ctx.beginPath();
        ctx.moveTo(a.left, py); ctx.lineTo(a.left + len, py);
        ctx.moveTo(a.right, py); ctx.lineTo(a.right - len, py);
        ctx.stroke();
      }
    };
    drawX(o.xMinor, 4); drawX(o.xMajor, 8);
    drawY(o.yMinor, 4); drawY(o.yMajor, 8);
    ctx.lineWidth = o.width;
    ctx.strokeRect(a.left, a.top, a.right - a.left, a.bottom - a.top);
    ctx.restore();
  },
};

interface Panel {
  left: number; top: number; width: number; height: number;
  xMin: number; xMax: number; yMin: number; yMax: number;
  yTicks: number[]; yLabels: string[];
  xTicks: number[]; xLabels: string[] | null;
  xMinor: number[]; xMajor: number[]; yMinor: number[]; yMajor: number[];
  frameColor: string; frameWidth: number;
  datasets: any[]; // back-to-front
}

const PAD_T = 24, PAD_R = 8, PAD_B = 24, YW = 50, XH = 45;

const PANELS: Panel[] = [
  {
    left: 50, top: 48, width: 380, height: 165, xMin: 0.265, xMax: 5.853, yMin: -0.07, yMax: 12.15,
    yTicks: A1_Y_TICKS, yLabels: A1_Y_TICKS.map(String), xTicks: A_X_TICKS, xLabels: null,
    xMinor: range(0.3, 5.8, 0.1), xMajor: A_X_TICKS, yMinor: range(1, 12, 1), yMajor: [2, 4, 6, 8, 10],
    frameColor: '#1a1a1a', frameWidth: 2,
    datasets: [line(A1_ECRH_BLACK, BLACK, 2), line(A1_ECRH_BLUE, BLUE_A, 2), line(A1_BLUE, BLUE_A), line(A1_BLACK, BLACK), line(A1_RED, RED_A, 1.5)],
  },
  {
    left: 50, top: 217, width: 380, height: 166, xMin: 0.265, xMax: 5.853, yMin: 0.11, yMax: 3.33,
    yTicks: A2_Y_TICKS, yLabels: A2_Y_LABELS, xTicks: A_X_TICKS, xLabels: null,
    xMinor: range(0.3, 5.8, 0.1), xMajor: A_X_TICKS, yMinor: range(0.2, 3.3, 0.1), yMajor: A2_Y_TICKS,
    frameColor: '#1a1a1a', frameWidth: 2,
    datasets: [line(A2_BLUE, BLUE_A), line(A2_BLACK, BLACK), line(A2_RED, RED_A, 1.4)],
  },
  {
    left: 50, top: 387, width: 380, height: 160, xMin: 0.265, xMax: 5.853, yMin: -0.48, yMax: 37.9,
    yTicks: A3_Y_TICKS, yLabels: A3_Y_TICKS.map(String), xTicks: A_X_TICKS, xLabels: A_X_LABELS,
    xMinor: range(0.3, 5.8, 0.1), xMajor: A_X_TICKS, yMinor: range(2, 36, 2), yMajor: A3_Y_TICKS,
    frameColor: '#1a1a1a', frameWidth: 2,
    datasets: [
      line(spikeTrace(A3_RED_SPIKES, A3_RED_BASE, 0.26, 4.0), RED_A, 1.1),
      line(spikeTrace(A3_BLACK_SPIKES, A3_BLACK_BASE, 0.26, 5.86), BLACK, 1.1),
      line(spikeTrace(A3_BLUE_SPIKES, A3_BLUE_BASE, 0.26, 4.04), BLUE_A, 1.1),
      line(A3_RED_BODY, RED_A, 1.2),
      line(A3_BLUE_ENV, BLUE_A, 1, true),
      line(A3_BLACK_BAND, BLACK, 1, true),
    ],
  },
  {
    left: 473, top: 43, width: 364, height: 168, xMin: 0.495, xMax: 4.029, yMin: -0.19, yMax: 7.75,
    yTicks: B1_Y_TICKS, yLabels: B1_Y_TICKS.map(String), xTicks: B_X_TICKS, xLabels: null,
    xMinor: range(0.5, 4.0, 0.1), xMajor: range(0.5, 4.0, 0.5), yMinor: range(0, 7.5, 0.5), yMajor: B1_Y_TICKS,
    frameColor: '#4d4d4d', frameWidth: 3,
    datasets: [line(B1_ECRH_BLACK, '#222', 2.2), line(B1_ECRH_RED, RED_B, 2), line(B1_BLUE, BLUE_B, 1.8), line(B1_RED, RED_B, 1.6)],
  },
  {
    left: 473, top: 216, width: 364, height: 168, xMin: 0.495, xMax: 4.029, yMin: 0.18, yMax: 2.69,
    yTicks: B2_Y_TICKS, yLabels: B2_Y_TICKS.map(String), xTicks: B_X_TICKS, xLabels: null,
    xMinor: range(0.5, 4.0, 0.1), xMajor: range(0.5, 4.0, 0.5), yMinor: range(0.2, 2.6, 0.1), yMajor: [0.5, 1, 1.5, 2, 2.5],
    frameColor: '#4d4d4d', frameWidth: 3,
    datasets: [line(B2_RED, RED_B, 1.8), line(B2_BLUE, BLUE_B, 1.8)],
  },
  {
    left: 473, top: 387, width: 364, height: 160, xMin: 0.495, xMax: 4.029, yMin: -0.53, yMax: 20.5,
    yTicks: B3_Y_TICKS, yLabels: B3_Y_TICKS.map(String), xTicks: B_X_TICKS, xLabels: B_X_LABELS,
    xMinor: range(0.5, 4.0, 0.1), xMajor: range(0.5, 4.0, 0.5), yMinor: range(0, 20, 1), yMajor: [0, 5, 10, 15, 20],
    frameColor: '#4d4d4d', frameWidth: 3,
    datasets: [
      line(B3_RED_BODY, RED_B, 1.5),
      line(spikeTrace(B3_RED_SPIKES, B3_RED_BASE, 0.49, 2.77), RED_B, 1.4),
      line(spikeTrace(B3_BLUE_SPIKES, B3_BLUE_BASE, 0.49, 4.04), BLUE_B, 1.3),
    ],
  },
];

function buildConfig(p: Panel): any {
  const showX = !!p.xLabels;
  const tickFont = { family: FONT, size: 28, weight: 'bold' as const };
  return {
    type: 'line',
    data: { datasets: p.datasets.slice().reverse() },
    plugins: [framePlugin],
    options: {
      responsive: false, animation: false, devicePixelRatio: 1, events: [],
      layout: { padding: { left: 0, right: PAD_R, top: PAD_T, bottom: showX ? 0 : PAD_B }, autoPadding: false },
      plugins: {
        legend: { display: false }, tooltip: { enabled: false },
        frame: { color: p.frameColor, width: p.frameWidth, xMinor: p.xMinor, xMajor: p.xMajor, yMinor: p.yMinor, yMajor: p.yMajor },
      },
      scales: {
        x: {
          type: 'linear', min: p.xMin, max: p.xMax, display: showX, offset: false,
          afterFit: (s: any) => { s.height = showX ? XH : 0; },
          afterBuildTicks: (s: any) => { s.ticks = p.xTicks.map((v) => ({ value: v })); },
          ticks: { callback: (_v: any, i: number) => (p.xLabels ? p.xLabels[i] : ''), font: { family: FONT, size: 28, weight: 'bold' }, color: '#111', padding: 3, maxRotation: 0, autoSkip: false },
          grid: { display: false, drawTicks: false }, border: { display: false },
        },
        y: {
          type: 'linear', min: p.yMin, max: p.yMax,
          afterFit: (s: any) => { s.width = YW; },
          afterBuildTicks: (s: any) => { s.ticks = p.yTicks.map((v) => ({ value: v })); },
          ticks: { callback: (_v: any, i: number) => p.yLabels[i], font: tickFont, color: '#111', padding: 4, autoSkip: false },
          grid: { display: false, drawTicks: false }, border: { display: false },
        },
      },
    },
  };
}

function Txt({ x, y, size, color = '#111', bold = true, align = 'left', children }: any) {
  const style: any = {
    position: 'absolute', top: y - 0.8375 * size, fontFamily: FONT, fontWeight: bold ? 700 : 400,
    fontSize: size, lineHeight: `${size}px`, color, whiteSpace: 'nowrap',
  };
  if (align === 'center') { style.left = x; style.transform = 'translateX(-50%)'; }
  else if (align === 'right') { style.right = 842 - x; }
  else style.left = x;
  return <div style={style}>{children}</div>;
}

const Sub = ({ children, size = 22, drop = 6 }: any) => (
  <span style={{ fontSize: size, verticalAlign: `${-drop}px` }}>{children}</span>
);

function PanelCanvas({ p }: { p: Panel }) {
  const ref = useRef<HTMLCanvasElement>(null);
  const showX = !!p.xLabels;
  const cw = YW + p.width + PAD_R;
  const ch = PAD_T + p.height + (showX ? XH : PAD_B);
  useEffect(() => {
    const c = ref.current!;
    const chart = new Chart(c, buildConfig(p));
    return () => chart.destroy();
  }, []);
  return (
    <canvas ref={ref} width={cw} height={ch}
      style={{ position: 'absolute', left: p.left - YW, top: p.top - PAD_T, width: cw, height: ch }} />
  );
}

export default function App() {
  return (
    <div style={{ position: 'absolute', left: 0, top: 0, width: 842, height: 612, background: '#fff', overflow: 'hidden' }}>
      {PANELS.map((p, i) => <PanelCanvas key={i} p={p} />)}
      <div style={{ position: 'absolute', left: 0, top: 0, width: 842, height: 612, pointerEvents: 'none' }}>
        <Txt x={50} y={38} size={28}>(a)</Txt>
        <Txt x={123} y={40} size={30}><span style={{ color: RED_TXT }}>134366</span>, 134367, <span style={{ color: NAVY_TXT }}>134368</span></Txt>
        <Txt x={470} y={37} size={28}>(b)</Txt>
        <Txt x={838} y={38} size={30} align="right"><span style={{ color: NAVY_TXT }}>134220</span>, <span style={{ color: RED_TXT }}>134217</span></Txt>

        <Txt x={68} y={90} size={32}>P<Sub drop={6}>NBI</Sub> (MW)</Txt>
        <Txt x={208} y={200} size={32}>P<Sub drop={8}>ECRH</Sub> (MW)</Txt>

        <Txt x={233} y={320} size={30}>ECCD</Txt>
        <Txt x={233} y={346} size={30} color={NAVY_TXT}>ECCD stops</Txt>
        <Txt x={233} y={372} size={30} color={RED_TXT}>No ECCD</Txt>

        <Txt x={67} y={412} size={30}>~</Txt>
        <Txt x={65} y={427} size={30}>B (n=1) (G)</Txt>
        <Txt x={205} y={468} size={24} color={RED_TXT}>No ECCD</Txt>
        <Txt x={285} y={412} size={24} color={NAVY_TXT}>ECCD stops</Txt>

        <Txt x={485} y={75} size={32}>P<Sub drop={5}>NBI</Sub> (MW)</Txt>
        <Txt x={657} y={197} size={32}>P<Sub drop={6}>ECRH</Sub> (MW)</Txt>

        <Txt x={489} y={250} size={28} bold={false}>β<Sub size={22} drop={10}>N</Sub></Txt>
        <Txt x={540} y={343} size={30} color={RED_TXT}>Narrow EC</Txt>
        <Txt x={540} y={369} size={30} color={NAVY_TXT}>Broad EC</Txt>

        <Txt x={492} y={407} size={30}>~</Txt>
        <Txt x={490} y={423} size={30}>B (n=1)(G)</Txt>
        <Txt x={593} y={455} size={30} color={RED_TXT}>(Narrow)</Txt>

        <Txt x={259} y={603} size={28} align="center">Time (s)</Txt>
        <Txt x={637} y={603} size={28} align="center">Time (s)</Txt>

        <svg width={842} height={612} style={{ position: 'absolute', left: 0, top: 0 }}>
          <line x1={192} y1={309} x2={227} y2={309} stroke={BLACK} strokeWidth={3} />
          <line x1={192} y1={335} x2={227} y2={335} stroke={BLUE_A} strokeWidth={3} />
          <line x1={192} y1={361} x2={227} y2={361} stroke={RED_A} strokeWidth={3} />
          <line x1={510} y1={335} x2={533} y2={335} stroke={RED_B} strokeWidth={3} />
          <line x1={510} y1={360} x2={533} y2={360} stroke={NAVY_TXT} strokeWidth={3} />
          <line x1={309} y1={458} x2={345} y2={458} stroke={RED_A} strokeWidth={2.2} />
          <polyline points="335,452 346,458 335,464" fill="none" stroke={RED_A} strokeWidth={2.2} />
          <line x1={381} y1={417} x2={403} y2={435} stroke={NAVY_TXT} strokeWidth={2.2} />
          <polyline points="392,434 404,436 402,424" fill="none" stroke={NAVY_TXT} strokeWidth={2.2} />
        </svg>
      </div>
    </div>
  );
}
